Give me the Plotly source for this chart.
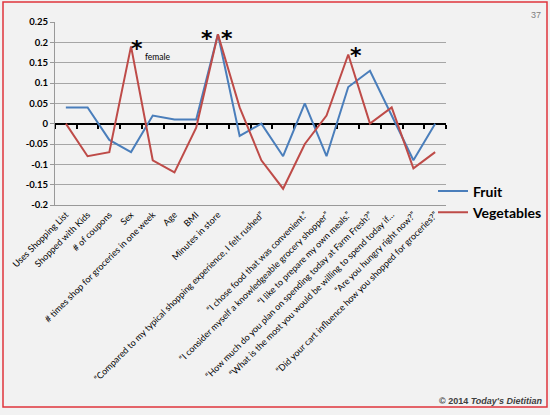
import plotly.graph_objects as go

categories = [
    "Uses Shopping List",
    "Shopped with Kids",
    "# of coupons",
    "Sex",
    "# times shop for groceries in one week",
    "Age",
    "BMI",
    "Minutes in store",
    "",
    "“Compared to my typical shopping experience, I felt rushed”",
    "",
    "“I chose food that was convenient.”",
    "“I consider myself a knowledgeable grocery shopper”",
    "“I like to prepare my own meals.”",
    "“How much do you plan on spending today at Farm Fresh?”",
    "“What is the most you would be willing to spend today if…",
    "“Are you hungry right now?”",
    "“Did your cart influence how you shopped for groceries?”",
]
fruit = [0.04, 0.04, -0.04, -0.07, 0.02, 0.01, 0.01, 0.22, -0.03, 0.0,
         -0.08, 0.05, -0.08, 0.09, 0.13, 0.02, -0.09, 0.0]
vegetables = [0.0, -0.08, -0.07, 0.19, -0.09, -0.12, -0.01, 0.22, 0.04, -0.09,
              -0.16, -0.05, 0.02, 0.17, 0.0, 0.04, -0.11, -0.07]
y_ticks = [0.25, 0.2, 0.15, 0.1, 0.05, 0, -0.05, -0.1, -0.15, -0.2]
y_labels = ["0.25", "0.2", "0.15", "0.1", "0.05", "0", "-0.05", "-0.1", "-0.15", "-0.2"]

idx = list(range(len(categories)))
W, H = 550, 415
L, R, T, B = 55, 104, 22, 210
pw, ph = W - L - R, H - T - B

def px(xp):
    return (xp - L) / pw

def py(yp):
    return (H - B - yp) / ph

fig = go.Figure()
fig.add_trace(go.Scatter(x=idx, y=fruit, mode="lines", name="Fruit",
                         line=dict(color="#4a7ebb", width=2)))
fig.add_trace(go.Scatter(x=idx, y=vegetables, mode="lines", name="Vegetables",
                         line=dict(color="#be4b48", width=2)))
# invisible trace to activate the zero-line axis with boundary ticks
fig.add_trace(go.Scatter(x=idx, y=fruit, xaxis="x2", mode="lines",
                         line=dict(width=0), opacity=0, showlegend=False,
                         hoverinfo="skip"))

ymin, ymax = -0.2, 0.25
zero_pos = (0 - ymin) / (ymax - ymin)

fig.update_layout(
    width=W, height=H,
    margin=dict(l=L, r=R, t=T, b=B, autoexpand=False),
    paper_bgcolor="#f2f2f2",
    plot_bgcolor="#f2f2f2",
    font=dict(family="Lato", color="#000000"),
    xaxis=dict(
        range=[-0.5, len(categories) - 0.5],
        tickvals=idx, ticktext=categories,
        tickangle=-45,
        tickfont=dict(size=9, family="Lato", color="#000000"),
        showgrid=False, zeroline=False,
        showline=True, linecolor="#999999", linewidth=1,
        ticks="", automargin=False,
    ),
    xaxis2=dict(
        overlaying="x", anchor="free", position=zero_pos,
        range=[-0.5, len(categories) - 0.5],
        tickvals=[i - 0.5 for i in idx] + [len(categories) - 0.5],
        ticks="outside", ticklen=4, tickwidth=1.5, tickcolor="#000000",
        showticklabels=False, showgrid=False, zeroline=False,
        showline=True, linecolor="#000000", linewidth=2,
        layer="below traces",
    ),
    yaxis=dict(
        range=[ymin, ymax],
        tickvals=y_ticks, ticktext=y_labels,
        tickfont=dict(size=9.5, family="Lato", color="#000000", weight="bold"),
        showgrid=True, gridcolor="#a6a6a6", gridwidth=1,
        zeroline=False, automargin=False,
        showline=True, linecolor="#999999", linewidth=1,
        ticks="outside", ticklen=4, tickcolor="#999999",
    ),
    legend=dict(
        x=px(433), y=py(175.5), xanchor="left", yanchor="top",
        font=dict(size=14, family="Lato", color="#000000", weight="bold"),
        bgcolor="rgba(0,0,0,0)",
        itemwidth=30, tracegroupgap=0,
    ),
    showlegend=True,
)

star_font = dict(family="DejaVu Sans", size=22, color="#000000", weight="bold")
ann = [
    dict(x=3, y=vegetables[3], text="*", xshift=6, yshift=-2, font=star_font),
    dict(x=3, y=vegetables[3], text="female", xshift=27, yshift=-11,
         font=dict(family="Lato", size=8.5, color="#000000")),
    dict(x=7, y=vegetables[7], text="*", xshift=-11, yshift=-4, font=star_font),
    dict(x=7, y=vegetables[7], text="*", xshift=9, yshift=-4, font=star_font),
    dict(x=13, y=vegetables[13], text="*", xshift=8, yshift=-1, font=star_font),
]
for a in ann:
    a.update(xref="x", yref="y", showarrow=False, xanchor="center", yanchor="middle")
    fig.add_annotation(**a)

fig.add_annotation(x=px(543), y=py(15), xref="paper", yref="paper",
                   text="37", showarrow=False, xanchor="right", yanchor="middle",
                   font=dict(family="Liberation Sans", size=9, color="#808080"))
fig.add_annotation(x=px(544), y=py(401), xref="paper", yref="paper",
                   text="<b>© 2014 <i>Today's Dietitian</i></b>", showarrow=False,
                   xanchor="right", yanchor="middle",
                   font=dict(family="Liberation Sans", size=9, color="#404040"))

fig.add_shape(type="rect", xref="paper", yref="paper",
              x0=px(3), x1=px(547), y0=py(407), y1=py(2),
              line=dict(color="#e0343c", width=1.5), fillcolor="rgba(0,0,0,0)",
              layer="above")

fig.write_html("out.html")
